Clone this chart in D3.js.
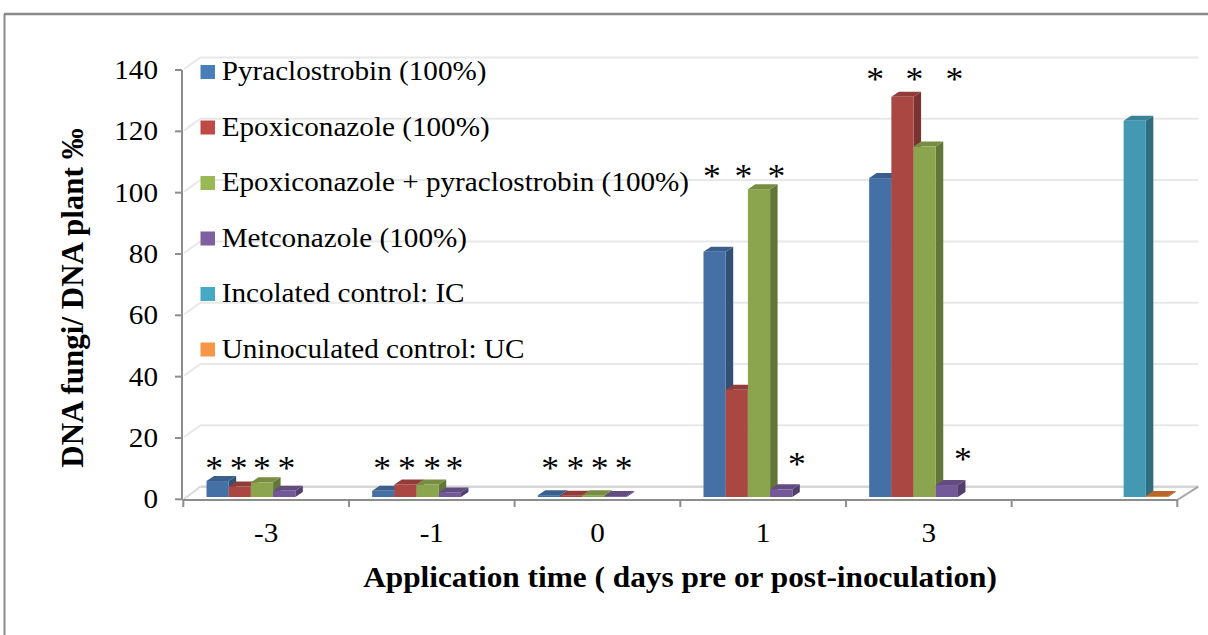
<!DOCTYPE html>
<html>
<head>
<meta charset="utf-8">
<script src="https://cdn.jsdelivr.net/npm/d3@7/dist/d3.min.js"></script>
<style>
  html, body { margin: 0; padding: 0; background: #ffffff; }
  svg { display: block; }
  text { font-family: "Liberation Serif", "Times New Roman", serif; fill: #000; }
</style>
</head>
<body>
<svg id="chart" width="1208" height="635"></svg>
<script>
// ---------------- DATA ----------------
const categories = ["-3", "-1", "0", "1", "3", ""];
const seriesNames = [
  "Pyraclostrobin (100%)",
  "Epoxiconazole (100%)",
  "Epoxiconazole + pyraclostrobin (100%)",
  "Metconazole (100%)",
  "Incolated control: IC",
  "Uninoculated control: UC"
];
const pyraclostrobin        = [5.2, 2.0, 0.6, 80.0, 104.0, null];
const epoxiconazole         = [3.4, 4.1, 0.4, 35.0, 130.5, null];
const epoxiPyraclostrobin   = [4.8, 4.1, 0.6, 100.4, 114.3, null];
const metconazole           = [2.0, 1.5, 0.3, 2.5, 3.9, null];
const incolatedControl      = [null, null, null, null, null, 122.7];
const uninoculatedControl   = [null, null, null, null, null, 0.3];
const yTicks = [0, 20, 40, 60, 80, 100, 120, 140];

// significance asterisks: category, position (in bar slots), height (in y units)
const starCategory = ["-3","-3","-3","-3","-1","-1","-1","-1","0","0","0","0","1","1","1","1","3","3","3","3"];
const starSlot     = [-0.15, 0.95, 2.0, 3.1, -0.05, 1.07, 2.2, 3.2, 0.06, 1.19, 2.28, 3.37, -0.12, 1.3, 2.78, 3.71, -0.23, 1.54, 3.34, 3.72];
const starLevel    = [12.3, 12.3, 12.3, 12.3, 12.3, 12.3, 12.3, 12.3, 12.3, 12.3, 12.3, 12.3, 107.4, 107.4, 107.4, 13.4, 139, 139, 139, 15.2];

const yTitle = "DNA fungi/ DNA plant \u2030";
const xTitle = "Application time ( days pre or post-inoculation)";

// ---------------- STYLE ----------------
const FONT = "Liberation Serif, Times New Roman, serif";
const frontColors = ["#4570a5", "#ab4743", "#8aa54e", "#735997", "#4399b2", "#d9782f"];
const legendColors = ["#4a7ebb", "#be4b48", "#98b954", "#7d60a0", "#46aac5", "#f79646"];
const SX = 1.08;           // horizontal stretch of the text in the picture
const depth = {dx: 7.5, dy: -5};      // bar depth projection
const wall = {dx: 17, dy: -12.6};     // back wall projection
const barShift = -2.3;

const allSeries = [pyraclostrobin, epoxiconazole, epoxiPyraclostrobin, metconazole, incolatedControl, uninoculatedControl];

const svg = d3.select("#chart");

// outer frame
svg.append("line").attr("x1", 4).attr("x2", 1208).attr("y1", 14).attr("y2", 14)
  .attr("stroke", "#8a8a8a").attr("stroke-width", 2.5);
svg.append("line").attr("x1", 4.5).attr("x2", 4.5).attr("y1", 14).attr("y2", 635)
  .attr("stroke", "#8a8a8a").attr("stroke-width", 2);

// scales
const x = d3.scaleBand().domain(categories).range([183.3, 1177.3]).padding(0);
const catW = x.bandwidth();
const barW = 22.2;
const inner = d3.scaleBand().domain(d3.range(6)).range([23.2, 23.2 + 6 * barW]).padding(0);
const y = d3.scaleLinear().domain([0, 140]).range([499.3, 70]);

const xLeft = 183.3, xRight = 1177.3, yBase = 500;

// back wall gridlines + side wall diagonals
const grid = svg.append("g");
yTicks.forEach(v => {
  const yy = y(v) + wall.dy;
  grid.append("line").attr("x1", xLeft + wall.dx).attr("x2", xRight + wall.dx + 4)
    .attr("y1", yy).attr("y2", yy)
    .attr("stroke", v === 0 ? "#d6d6d6" : "#e8e8e8").attr("stroke-width", v === 0 ? 2.5 : 2);
  grid.append("line").attr("x1", xLeft + 1).attr("y1", y(v) - 1)
    .attr("x2", xLeft + wall.dx).attr("y2", yy)
    .attr("stroke", "#e8e8e8").attr("stroke-width", 2);
});
// floor edges
svg.append("line").attr("x1", xRight).attr("y1", yBase).attr("x2", xRight + wall.dx + 4).attr("y2", y(0) + wall.dy)
  .attr("stroke", "#a6a6a6").attr("stroke-width", 2);
svg.append("line").attr("x1", xLeft + 1).attr("y1", yBase - 1).attr("x2", xLeft + wall.dx).attr("y2", y(0) + wall.dy)
  .attr("stroke", "#d0d0d0").attr("stroke-width", 1.5).attr("stroke-dasharray", "2,1");

// bars
const bars = svg.append("g");
categories.forEach((c, ci) => {
  allSeries.forEach((arr, si) => {
    const v = arr[ci];
    if (v === null || v === undefined) return;
    const x0 = x(c) + inner(si);
    const w = inner.bandwidth();
    const yb = y(0) + barShift;
    const yt = y(v) + barShift;
    const base = d3.color(frontColors[si]);
    const side = base.darker(0.95).formatHex();
    const top = base.darker(0.45).formatHex();
    const g = bars.append("g");
    g.append("path").attr("d", `M${x0 + w},${yt} L${x0 + w + depth.dx},${yt + depth.dy} L${x0 + w + depth.dx},${yb + depth.dy} L${x0 + w},${yb} Z`)
      .attr("fill", side);
    g.append("path").attr("d", `M${x0},${yt} L${x0 + depth.dx},${yt + depth.dy} L${x0 + w + depth.dx},${yt + depth.dy} L${x0 + w},${yt} Z`)
      .attr("fill", top);
    g.append("rect").attr("x", x0).attr("y", yt).attr("width", w).attr("height", Math.max(0, yb - yt))
      .attr("fill", frontColors[si]);
  });
});

// axes
svg.append("line").attr("x1", xLeft - 1).attr("x2", xRight).attr("y1", yBase).attr("y2", yBase)
  .attr("stroke", "#8d8d8d").attr("stroke-width", 2);
svg.append("line").attr("x1", 182).attr("x2", 182).attr("y1", y(140)).attr("y2", yBase)
  .attr("stroke", "#8d8d8d").attr("stroke-width", 2);

// y ticks and labels
const yAxisG = svg.append("g");
yTicks.forEach(v => {
  yAxisG.append("line").attr("x1", 175).attr("x2", 182).attr("y1", y(v)).attr("y2", y(v))
    .attr("stroke", "#8d8d8d").attr("stroke-width", 2);
  yAxisG.append("text")
    .attr("transform", `translate(158,${y(v) + 9}) scale(${SX},1)`)
    .attr("font-family", FONT)
    .attr("text-anchor", "end").attr("font-size", 27).text(v);
});

// x ticks and labels
const xAxisG = svg.append("g");
categories.forEach(c => {
  xAxisG.append("line").attr("x1", x(c)).attr("x2", x(c)).attr("y1", yBase).attr("y2", yBase + 7)
    .attr("stroke", "#8d8d8d").attr("stroke-width", 2);
  if (c !== "") {
    xAxisG.append("text")
      .attr("transform", `translate(${x(c) + catW / 2},542) scale(${SX},1)`)
      .attr("font-family", FONT)
      .attr("text-anchor", "middle").attr("font-size", 27).text(c);
  }
});
xAxisG.append("line").attr("x1", xRight).attr("x2", xRight).attr("y1", yBase).attr("y2", yBase + 7)
  .attr("stroke", "#8d8d8d").attr("stroke-width", 2);

// asterisks
const starG = svg.append("g");
starCategory.forEach((c, i) => {
  const cx = x(c) + inner(0) + (starSlot[i] + 0.5) * barW;
  const cy = y(starLevel[i]);
  starG.append("text")
    .attr("transform", `translate(${cx},${cy + 17}) scale(${SX},1)`)
    .attr("font-family", FONT)
    .attr("text-anchor", "middle").attr("font-size", 33).text("*");
});

// legend
const legend = svg.append("g");
seriesNames.forEach((name, i) => {
  const by = 80 + i * 55.5;
  legend.append("rect").attr("x", 200.5).attr("y", by - 15).attr("width", 14.5).attr("height", 14)
    .attr("fill", legendColors[i]);
  legend.append("text")
    .attr("transform", `translate(221.7,${by}) scale(${SX},1)`)
    .attr("font-family", FONT)
    .attr("font-size", 27).text(name);
});

// axis titles
svg.append("text")
  .attr("transform", `translate(83,298) rotate(-90)`)
  .attr("font-family", FONT)
  .attr("text-anchor", "middle").attr("font-size", 31).attr("font-weight", "bold")
  .text(yTitle);
svg.append("text")
  .attr("transform", `translate(680,587) scale(${SX},1)`)
  .attr("font-family", FONT)
  .attr("text-anchor", "middle").attr("font-size", 29).attr("font-weight", "bold")
  .text(xTitle);
</script>
</body>
</html>
